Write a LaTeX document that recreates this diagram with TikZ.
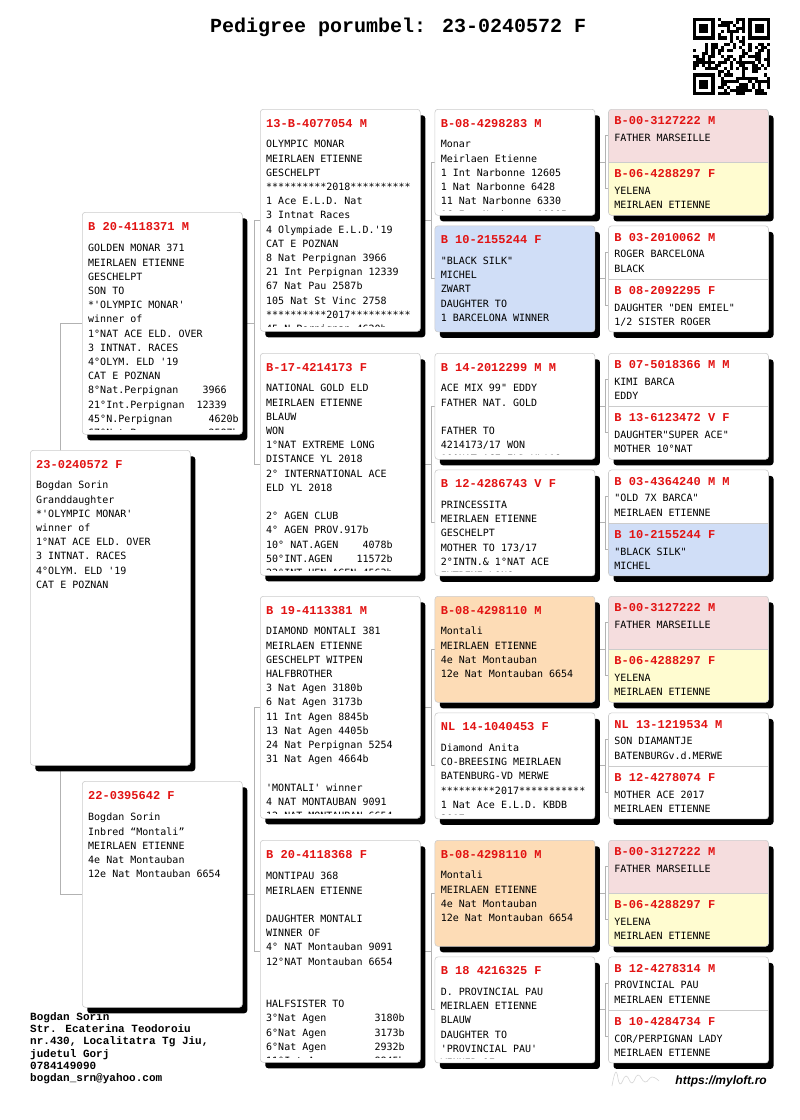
\documentclass[tikz,border=0pt]{standalone}
\usepackage{fontspec}
\setmainfont{DejaVu Sans}
\newfontfamily\bodyfont{DejaVu Sans Mono}[Ligatures=TeXOff]
\newfontfamily\idfont{Liberation Mono}
\newfontfamily\webfont{Liberation Sans}
\usetikzlibrary{calc, positioning, shadows, backgrounds}

\definecolor{idred}{RGB}{226,18,18}
\definecolor{pinkbg}{RGB}{245,221,222}
\definecolor{yellowbg}{RGB}{255,252,208}
\definecolor{bluebg}{RGB}{208,222,247}
\definecolor{orangebg}{RGB}{253,220,182}
\colorlet{edge}{black!20}
\colorlet{wire}{black!30}

% red ring number on top of every card
\newcommand\pid[1]{{\idfont\bfseries\fontsize{12}{14}\selectfont\color{idred}#1}}
% text of a card, cut off a little above the card's bottom
\newcommand\cardtext[3][10pt]{%
  \begin{scope}
    \clip (#2.north west) rectangle ([yshift=5pt]#2.south east);
    \node[note] (#2-txt) at ([xshift=6pt,yshift=-#1]#2.north west) {#3};
  \end{scope}}

\begin{document}
\begin{tikzpicture}[x=1pt, y=-1pt,
    card/.style={draw=edge, line width=0.6pt, fill=white, rounded corners=3pt,
      anchor=north west, minimum width=160pt, inner sep=0pt,
      drop shadow={shadow xshift=5pt, shadow yshift=-6pt, opacity=1, fill=black}},
    pair/.style 2 args={card, minimum height=106pt, fill=#1,
      path picture={
        \fill[#2, sharp corners] (path picture bounding box.west) rectangle (path picture bounding box.south east);
        \draw[edge, line width=0.8pt, sharp corners] (path picture bounding box.west) -- (path picture bounding box.east);}},
    half/.style={anchor=north west, minimum width=160pt, minimum height=53pt, inner sep=0pt},
    note/.style={anchor=north west, inner sep=0pt, align=left,
      font=\bodyfont\fontsize{10}{14.2}\selectfont},
    link/.style={draw=wire, line width=0.9pt},
    node distance=10pt,
  ]
  \useasboundingbox (0,0) rectangle (800,1120);

  \node[anchor=base west, inner sep=0pt, font=\idfont\bfseries\fontsize{20}{24}\selectfont]
    (title) at (210,32) {Pedigree porumbel: 23-0240572 F};

  % qr code
  \begin{scope}[shift={(693,18)}, x=3.08pt, y=-3.08pt]
    \pgfmathsetseed{7}
    \foreach \i in {0,...,24} {
      \foreach \j in {0,...,24} {
        \pgfmathtruncatemacro\qbit{((\i<8 && \j<8) || (\i>16 && \j<8) || (\i<8 && \j>16)) ? 0 : (rnd < 0.5 ? 1 : 0)}
        \ifnum\qbit=1 \fill (\i,\j) rectangle ++(1,1); \fi
      }
    }
    \foreach \a/\b in {0/0, 18/0, 0/18} {
      \fill (\a,\b) rectangle ++(7,7);
      \fill[white] (\a+1,\b+1) rectangle ++(5,5);
      \fill (\a+2,\b+2) rectangle ++(3,3);
    }
  \end{scope}

  % subject and parents
  \node[card, minimum height=315pt] (g0) at (30,450) {};
  \cardtext{g0}{\pid{23-0240572 F}\\[6.5pt]Bogdan Sorin\\Granddaughter\\{}*'OLYMPIC MONAR'\\winner of\\1°NAT ACE ELD. OVER\\3 INTNAT. RACES\\4°OLYM. ELD '19\\CAT E POZNAN}

  \node[card, minimum height=222pt] (g1a) at (82,212) {};
  \cardtext{g1a}{\pid{B 20-4118371 M}\\[7.5pt]GOLDEN MONAR 371\\MEIRLAEN ETIENNE\\GESCHELPT\\SON TO\\{}*'OLYMPIC MONAR'\\winner of\\1°NAT ACE ELD. OVER\\3 INTNAT. RACES\\4°OLYM. ELD '19\\CAT E POZNAN\\8°Nat.Perpignan~~~~3966\\21°Int.Perpignan~~12339\\45°N.Perpignan~~~~~~4620b\\67°Nat Pau~~~~~~~~~~2587b}

  \node[card, minimum height=226pt] (g1b) at (82,781) {};
  \cardtext{g1b}{\pid{22-0395642 F}\\[7.5pt]Bogdan Sorin\\Inbred “Montali”\\MEIRLAEN ETIENNE\\4e Nat Montauban\\12e Nat Montauban 6654}

  % grandparents
  \node[card, minimum height=222pt] (g2a) at (260,109) {};
  \cardtext{g2a}{\pid{13-B-4077054 M}\\[6.5pt]OLYMPIC MONAR\\MEIRLAEN ETIENNE\\GESCHELPT\\{}**********2018**********\\1 Ace E.L.D. Nat\\3 Intnat Races\\4 Olympiade E.L.D.'19\\CAT E POZNAN\\8 Nat Perpignan 3966\\21 Int Perpignan 12339\\67 Nat Pau 2587b\\105 Nat St Vinc 2758\\{}**********2017**********\\45 N.Perpignan 4620b}

  \node[card, minimum height=222pt] (g2b) at (260,353) {};
  \cardtext{g2b}{\pid{B-17-4214173 F}\\[6.5pt]NATIONAL GOLD ELD\\MEIRLAEN ETIENNE\\BLAUW\\WON\\1°NAT EXTREME LONG\\DISTANCE YL 2018\\2° INTERNATIONAL ACE\\ELD YL 2018\\[14.2pt]2° AGEN CLUB\\4° AGEN PROV.917b\\10° NAT.AGEN~~~~4078b\\50°INT.AGEN~~~~11572b\\22°INT HEN AGEN 4563b}

  \node[card, minimum height=222pt] (g2c) at (260,596) {};
  \cardtext{g2c}{\pid{B 19-4113381 M}\\[6.5pt]DIAMOND MONTALI 381\\MEIRLAEN ETIENNE\\GESCHELPT WITPEN\\HALFBROTHER\\3 Nat Agen 3180b\\6 Nat Agen 3173b\\11 Int Agen 8845b\\13 Nat Agen 4405b\\24 Nat Perpignan 5254\\31 Nat Agen 4664b\\[14.2pt]'MONTALI' winner\\4 NAT MONTAUBAN 9091\\12 NAT MONTAUBAN 6654}

  \node[card, minimum height=222pt] (g2d) at (260,840) {};
  \cardtext{g2d}{\pid{B 20-4118368 F}\\[7.5pt]MONTIPAU 368\\MEIRLAEN ETIENNE\\[14.2pt]DAUGHTER MONTALI\\WINNER OF\\4° NAT Montauban 9091\\12°NAT Montauban 6654\\[28.4pt]HALFSISTER TO\\3°Nat Agen~~~~~~~~3180b\\6°Nat Agen~~~~~~~~3173b\\6°Nat Agen~~~~~~~~2932b\\11°Int Agen~~~~~~~8845b}

  % great-grandparents
  \node[card, minimum height=106pt, right=14pt of g2a.north east, anchor=north west] (g3a) {};
  \cardtext{g3a}{\pid{B-08-4298283 M}\\[6.5pt]Monar\\Meirlaen Etienne\\1 Int Narbonne 12605\\1 Nat Narbonne 6428\\11 Nat Narbonne 6330\\16 Int Narbonne 10005}
  \node[card, minimum height=106pt, fill=bluebg, below=of g3a] (g3b) {};
  \cardtext{g3b}{\pid{B 10-2155244 F}\\[6.5pt]"BLACK SILK"\\MICHEL\\ZWART\\DAUGHTER TO\\1 BARCELONA WINNER}

  \node[card, minimum height=106pt, right=14pt of g2b.north east, anchor=north west] (g3c) {};
  \cardtext{g3c}{\pid{B 14-2012299 M M}\\[6.5pt]ACE MIX 99" EDDY\\FATHER NAT. GOLD\\[14.2pt]FATHER TO\\4214173/17 WON\\10°NAT ACE ELD YL'18}
  \node[card, minimum height=106pt, below=of g3c] (g3d) {};
  \cardtext{g3d}{\pid{B 12-4286743 V F}\\[6.5pt]PRINCESSITA\\MEIRLAEN ETIENNE\\GESCHELPT\\MOTHER TO 173/17\\2°INTN.\& 1°NAT ACE\\EXTREME LONG}

  \node[card, minimum height=106pt, fill=orangebg, right=14pt of g2c.north east, anchor=north west] (g3e) {};
  \cardtext{g3e}{\pid{B-08-4298110 M}\\[6.5pt]Montali\\MEIRLAEN ETIENNE\\4e Nat Montauban\\12e Nat Montauban 6654}
  \node[card, minimum height=106pt, below=of g3e] (g3f) {};
  \cardtext{g3f}{\pid{NL 14-1040453 F}\\[6.5pt]Diamond Anita\\CO-BREESING MEIRLAEN\\BATENBURG-VD MERWE\\{}*********2017***********\\1 Nat Ace E.L.D. KBDB\\2017}

  \node[card, minimum height=106pt, fill=orangebg, right=14pt of g2d.north east, anchor=north west] (g3g) {};
  \cardtext{g3g}{\pid{B-08-4298110 M}\\[6.5pt]Montali\\MEIRLAEN ETIENNE\\4e Nat Montauban\\12e Nat Montauban 6654}
  \node[card, minimum height=106pt, below=of g3g] (g3h) {};
  \cardtext{g3h}{\pid{B 18 4216325 F}\\[6.5pt]D. PROVINCIAL PAU\\MEIRLAEN ETIENNE\\BLAUW\\DAUGHTER TO\\'PROVINCIAL PAU'\\WINNER OF}

  % last generation, two to a card
  \node[pair={pinkbg}{yellowbg}, right=13pt of g3a] (g4a) {};
  \node[half] (g4a-s) at (g4a.north west) {};
  \node[half, anchor=south west] (g4a-d) at (g4a.south west) {};
  \cardtext[7.5pt]{g4a-s}{\pid{B-00-3127222 M}\\[2.3pt]FATHER MARSEILLE}
  \cardtext[7.5pt]{g4a-d}{\pid{B-06-4288297 F}\\[2.3pt]YELENA\\MEIRLAEN ETIENNE}

  \node[pair={white}{white}, right=13pt of g3b] (g4b) {};
  \node[half] (g4b-s) at (g4b.north west) {};
  \node[half, anchor=south west] (g4b-d) at (g4b.south west) {};
  \cardtext[7.5pt]{g4b-s}{\pid{B 03-2010062 M}\\[2.3pt]ROGER BARCELONA\\BLACK}
  \cardtext[7.5pt]{g4b-d}{\pid{B 08-2092295 F}\\[2.3pt]DAUGHTER "DEN EMIEL"\\1/2 SISTER ROGER}

  \node[pair={white}{white}, right=13pt of g3c] (g4c) {};
  \node[half] (g4c-s) at (g4c.north west) {};
  \node[half, anchor=south west] (g4c-d) at (g4c.south west) {};
  \cardtext[7.5pt]{g4c-s}{\pid{B 07-5018366 M M}\\[2.3pt]KIMI BARCA\\EDDY}
  \cardtext[7.5pt]{g4c-d}{\pid{B 13-6123472 V F}\\[2.3pt]DAUGHTER"SUPER ACE"\\MOTHER 10°NAT}

  \node[pair={white}{bluebg}, right=13pt of g3d] (g4d) {};
  \node[half] (g4d-s) at (g4d.north west) {};
  \node[half, anchor=south west] (g4d-d) at (g4d.south west) {};
  \cardtext[7.5pt]{g4d-s}{\pid{B 03-4364240 M M}\\[2.3pt]"OLD 7X BARCA"\\MEIRLAEN ETIENNE}
  \cardtext[7.5pt]{g4d-d}{\pid{B 10-2155244 F}\\[2.3pt]"BLACK SILK"\\MICHEL}

  \node[pair={pinkbg}{yellowbg}, right=13pt of g3e] (g4e) {};
  \node[half] (g4e-s) at (g4e.north west) {};
  \node[half, anchor=south west] (g4e-d) at (g4e.south west) {};
  \cardtext[7.5pt]{g4e-s}{\pid{B-00-3127222 M}\\[2.3pt]FATHER MARSEILLE}
  \cardtext[7.5pt]{g4e-d}{\pid{B-06-4288297 F}\\[2.3pt]YELENA\\MEIRLAEN ETIENNE}

  \node[pair={white}{white}, right=13pt of g3f] (g4f) {};
  \node[half] (g4f-s) at (g4f.north west) {};
  \node[half, anchor=south west] (g4f-d) at (g4f.south west) {};
  \cardtext[7.5pt]{g4f-s}{\pid{NL 13-1219534 M}\\[2.3pt]SON DIAMANTJE\\BATENBURGv.d.MERWE}
  \cardtext[7.5pt]{g4f-d}{\pid{B 12-4278074 F}\\[2.3pt]MOTHER ACE 2017\\MEIRLAEN ETIENNE}

  \node[pair={pinkbg}{yellowbg}, right=13pt of g3g] (g4g) {};
  \node[half] (g4g-s) at (g4g.north west) {};
  \node[half, anchor=south west] (g4g-d) at (g4g.south west) {};
  \cardtext[7.5pt]{g4g-s}{\pid{B-00-3127222 M}\\[2.3pt]FATHER MARSEILLE}
  \cardtext[7.5pt]{g4g-d}{\pid{B-06-4288297 F}\\[2.3pt]YELENA\\MEIRLAEN ETIENNE}

  \node[pair={white}{white}, right=13pt of g3h] (g4h) {};
  \node[half] (g4h-s) at (g4h.north west) {};
  \node[half, anchor=south west] (g4h-d) at (g4h.south west) {};
  \cardtext[7.5pt]{g4h-s}{\pid{B 12-4278314 M}\\[2.3pt]PROVINCIAL PAU\\MEIRLAEN ETIENNE}
  \cardtext[7.5pt]{g4h-d}{\pid{B 10-4284734 F}\\[2.3pt]COR/PERPIGNAN LADY\\MEIRLAEN ETIENNE}

  % owner and site
  \node[anchor=north west, align=left, inner sep=0pt,
    font=\idfont\bfseries\fontsize{11}{12.3}\selectfont] (owner) at (30,1012)
    {Bogdan Sorin\\Str. Ecaterina Teodoroiu\\nr.430, Localitatra Tg Jiu,\\judetul Gorj\\0784149090\\bogdan\_srn@yahoo.com};
  \node[anchor=base east, inner sep=0pt, font=\webfont\bfseries\itshape\fontsize{12}{14}\selectfont]
    (site) at (767,1084) {https://myloft.ro};
  \draw[black!16, line width=0.6pt] plot[smooth, tension=0.8] coordinates
    {(612,1086) (616,1072) (620,1084) (626,1076) (632,1083) (638,1075) (645,1082) (652,1077) (659,1081)};

  % connectors
  \begin{scope}[on background layer]
    \fill[white] (0,0) rectangle (800,1120);
    \draw[link] (g1a.west) -- ++(-22,0) |- (g1b.west);
    \foreach \p/\s/\d/\gap in {g1a/g2a/g2b/12, g1b/g2c/g2d/12,
        g2a/g3a/g3b/11, g2b/g3c/g3d/11, g2c/g3e/g3f/11, g2d/g3g/g3h/11,
        g3a/g4a-s/g4a-d/10, g3b/g4b-s/g4b-d/10, g3c/g4c-s/g4c-d/10, g3d/g4d-s/g4d-d/10,
        g3e/g4e-s/g4e-d/10, g3f/g4f-s/g4f-d/10, g3g/g4g-s/g4g-d/10, g3h/g4h-s/g4h-d/10}
      \draw[link] (\p.east) -- ++(\gap,0) coordinate (j) (\s.west) -| (j) |- (\d.west);
  \end{scope}
\end{tikzpicture}
\end{document}
